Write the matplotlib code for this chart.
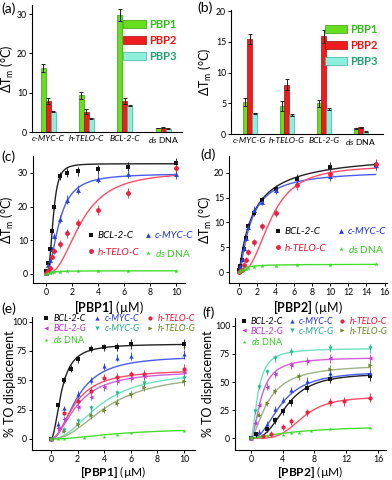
import numpy as np
import matplotlib
matplotlib.use('Agg')
import matplotlib.pyplot as plt
from matplotlib.patches import Patch
from matplotlib.lines import Line2D

plt.rcParams['font.family'] = ['Lato', 'DejaVu Sans']
plt.rcParams['mathtext.fontset'] = 'custom'
plt.rcParams['mathtext.rm'] = 'Lato'
plt.rcParams['mathtext.it'] = 'Lato:italic'
plt.rcParams['mathtext.bf'] = 'Lato:bold'
plt.rcParams['axes.linewidth'] = 0.8

# ---------------- data ----------------
# (a) Delta Tm, C-rich targets
cats_a = ['c-MYC-C', 'h-TELO-C', 'BCL-2-C', 'ds DNA']
a_pbp1 = [16.3, 9.3, 29.8, 1.0]
a_pbp2 = [7.8, 5.2, 7.8, 1.1]
a_pbp3 = [5.2, 3.5, 6.7, 0.8]
a_err1 = [1.0, 0.8, 1.5, 0.1]
a_err2 = [0.8, 0.6, 0.8, 0.1]
a_err3 = [0.2, 0.1, 0.2, 0.1]

# (b) Delta Tm, G-rich targets
cats_b = ['c-MYC-G', 'h-TELO-G', 'BCL-2-G', 'ds DNA']
b_pbp1 = [5.2, 4.6, 5.0, 0.9]
b_pbp2 = [15.5, 8.0, 15.9, 1.1]
b_pbp3 = [3.4, 3.1, 4.1, 0.4]
b_err1 = [0.6, 0.8, 0.6, 0.05]
b_err2 = [0.8, 0.9, 1.1, 0.05]
b_err3 = [0.1, 0.1, 0.2, 0.05]

# (c) titration with PBP1
c_x = [0, 0.15, 0.3, 0.45, 0.65, 1.1, 1.6, 2.5, 4.0, 6.3, 10]
c_bcl = [1.0, 3.3, 7.5, 12.7, 20.0, 29.0, 30.0, 30.5, 31.0, 31.8, 33.0]
c_myc = [0.3, 2.5, 4.2, 7.5, 11.2, 16.3, 22.0, 25.0, 28.3, 29.8, 29.8]
c_telo = [0.3, 1.0, 1.8, 5.0, 6.8, 9.0, 12.0, 15.0, 19.0, 24.0, 31.5]
c_ds = [0.0, 0.3, 0.4, 0.5, 0.6, 0.7, 0.8, 0.8, 0.8, 0.9, 1.0]
c_err = [0.3, 0.5, 0.5, 0.6, 0.8, 1.2, 1.3, 1.3, 1.4, 1.4, 1.5]
# Hill-fit parameters (Vmax, K, n)
c_fit_bcl = [32.7, 0.55, 3.0]
c_fit_myc = [29.8, 1.0, 2.0]
c_fit_telo = [30.5, 2.7, 2.4]
c_fit_ds = [0.95, 0.3, 1.0]

# (d) titration with PBP2
d_x = [0, 0.1, 0.25, 0.5, 0.7, 1.0, 1.6, 2.5, 4.0, 6.3, 10, 15]
d_bcl = [0.5, 1.2, 2.5, 4.7, 6.8, 9.2, 12.0, 14.5, 16.8, 18.8, 21.2, 21.6]
d_myc = [0.3, 1.3, 2.6, 4.8, 6.9, 9.0, 12.6, 14.2, 16.5, 18.0, 19.3, 21.5]
d_telo = [0.0, 0.3, 0.5, 1.5, 2.5, 4.0, 6.0, 9.2, 12.0, 17.5, 19.8, 21.8]
d_ds = [0.0, 0.2, 0.4, 0.6, 0.7, 0.8, 1.0, 1.2, 1.3, 1.4, 1.5, 1.6]
d_err = [0.3, 0.3, 0.4, 0.5, 0.5, 0.6, 0.7, 0.7, 0.8, 0.9, 1.0, 1.0]
d_fit_bcl = [24.0, 1.6, 1.0]
d_fit_myc = [20.5, 1.3, 1.3]
d_fit_telo = [21.5, 3.5, 2.5]
d_fit_ds = [1.6, 0.5, 1.0]

# (e) TO displacement, PBP1
e_x_bcl_c = [0, 0.5, 1, 1.5, 2, 3, 4, 5, 6, 10]
e_bcl_c = [0, 29, 50, 60, 68, 77, 78, 78.5, 81, 81]
e_x_myc_c = [0, 0.5, 1, 2, 3, 4, 5, 6, 10]
e_myc_c = [0, 13, 26, 38, 50, 62, 69, 71, 72]
e_x_telo_c = [0, 1, 2, 3, 4, 5, 6, 7, 10]
e_telo_c = [0, 22, 32, 41, 52, 53, 55, 55, 60]
e_x_bcl_g = [0, 0.5, 1, 2, 3, 4, 5, 6, 7, 10]
e_bcl_g = [0, 9, 17, 27, 36, 44, 49, 52, 54, 57]
e_x_myc_g = [0, 1, 2, 3, 5, 7, 10]
e_myc_g = [0, 8, 15, 26, 39, 48, 52]
e_x_telo_g = [0, 1, 2, 3, 4, 5, 6, 7, 10]
e_telo_g = [0, 7, 13, 20, 25, 31, 38, 44, 49]
e_x_ds = [0, 0.5, 1, 2.5, 4, 5, 6, 10]
e_ds = [0, 0, 0, 1, 2, 3, 5, 7]
e_fit_bcl_c = [81, 0.8, 2.0]
e_fit_myc_c = [71, 2.0, 2.1]
e_fit_telo_c = [59, 1.8, 2.0]
e_fit_bcl_g = [58, 2.0, 1.9]
e_fit_myc_g = [58, 3.7, 2.2]
e_fit_telo_g = [56, 4.3, 2.2]
e_fit_ds = [9, 5.0, 2.0]

# (f) TO displacement, PBP2
f_x_bcl_c = [0, 0.6, 2, 3, 4, 5, 7, 10, 15]
f_bcl_c = [0, 3.5, 8, 16, 24, 32, 45, 53, 55]
f_x_myc_c = [0, 1, 2, 3, 4, 5, 7, 10, 15]
f_myc_c = [0, 6, 13, 26, 34, 43, 51, 58, 58]
f_x_telo_c = [0, 1.5, 2.5, 4, 5, 7, 10, 11.7, 15]
f_telo_c = [0, 2, 4, 10, 15, 23, 32, 33, 36]
f_x_bcl_g = [0, 0.5, 1, 2, 3, 5, 7, 10, 15]
f_bcl_g = [0, 14, 30, 46, 57, 65, 69, 71, 71]
f_x_myc_g = [0, 0.5, 1, 2, 3, 5, 10, 15]
f_myc_g = [0, 24, 46, 59, 71, 77, 80, 80]
f_x_telo_g = [0, 1, 2, 3, 6, 10, 15]
f_telo_g = [0, 21, 31, 42, 55, 62, 65]
f_x_ds = [0, 1, 2, 4, 5, 6, 7.5, 10, 15]
f_ds = [0, 1, 2, 3, 4.5, 5, 6.5, 8, 9.5]
f_fit_bcl_c = [58, 4.5, 2.8]
f_fit_myc_c = [60, 3.8, 2.3]
f_fit_telo_c = [37, 6.5, 4.0]
f_fit_bcl_g = [72, 1.3, 1.8]
f_fit_myc_g = [80, 0.9, 1.8]
f_fit_telo_g = [66, 2.2, 1.6]
f_fit_ds = [12, 6.0, 1.3]

# ---------------- style ----------------
BAR_COLORS = ['#66e01e', '#ee1c1c', '#8cf0dc']
BAR_EDGES = ['#3a9a10', '#a01010', '#40b0a0']
LEG_TXT = ['#2fbf1a', '#ee1111', '#1fa070']

S = {
    'BCL-2-C': dict(c='#111111', lc='#222222', m='s', tc='#000000'),
    'c-MYC-C': dict(c='#2a3fe0', lc='#4a5cf0', m='^', tc='#2233cc'),
    'h-TELO-C': dict(c='#ee2040', lc='#ff4d6a', m='o', tc='#ee1133'),
    'ds DNA': dict(c='#3ad82a', lc='#48dc30', m='*', tc='#33cc22'),
    'BCL-2-G': dict(c='#c43cd0', lc='#d060d8', m='<', tc='#bb33cc'),
    'c-MYC-G': dict(c='#22b890', lc='#70e0c0', m='v', tc='#22aa88'),
    'h-TELO-G': dict(c='#6c8a2a', lc='#a0b088', m='>', tc='#668822'),
}

YL_TM = r'$\Delta$T$_\mathrm{m}$ (°C)'


def hill(x, p):
    vmax, k, n = p
    return vmax * x ** n / (k ** n + x ** n)


def label_text(name):
    if name == 'ds DNA':
        return r'$\mathit{ds}$ DNA'
    return name


W, H = 392, 480
fig = plt.figure(figsize=(W / 100, H / 100), dpi=100)


def rect(l, r, b, t):
    return [l / W, 1 - b / H, (r - l) / W, (b - t) / H]


def style_axes(ax):
    ax.spines['top'].set_visible(False)
    ax.spines['right'].set_visible(False)
    ax.tick_params(labelsize=6.3, length=2.5, width=0.7, pad=1.0)


def set_ylab(ax, text, xpix):
    # xpix: right edge (in figure pixels) of the rotated label
    ax.set_ylabel(text, fontsize=9)
    l = ax.get_position().x0 * W
    w = ax.get_position().width * W
    ax.yaxis.set_label_coords((xpix - l) / w, 0.5)


def bar_panel(ax, cats, s1, s2, s3, e1, e2, e3, ylim, yticks, xlim):
    style_axes(ax)
    x = np.arange(len(cats))
    w = 0.13
    for i, (s, e) in enumerate([(s1, e1), (s2, e2), (s3, e3)]):
        ax.bar(x + (i - 1) * w, s, w, yerr=e, color=BAR_COLORS[i],
               edgecolor=BAR_EDGES[i], linewidth=0.5,
               error_kw=dict(ecolor='#222222', elinewidth=0.7, capsize=1.5, capthick=0.7))
    ax.set_xlim(*xlim)
    ax.set_ylim(*ylim)
    ax.set_yticks(yticks)
    ax.set_xticks(x)
    ax.set_xticklabels([label_text(c) for c in cats], fontsize=6.1)
    for t, c in zip(ax.get_xticklabels(), cats):
        if c != 'ds DNA':
            t.set_fontstyle('italic')
    ax.tick_params(axis='x', length=0, pad=2)
    handles = [Patch(facecolor=BAR_COLORS[i], edgecolor=BAR_EDGES[i], linewidth=0.5)
               for i in range(3)]
    leg = ax.legend(handles, ['PBP1', 'PBP2', 'PBP3'], loc='upper right',
                    bbox_to_anchor=(1.03, 0.97), frameon=False,
                    prop=dict(size=8, weight='bold'), handlelength=2.0,
                    handleheight=0.8, labelspacing=0.45, handletextpad=0.3)
    for t, c in zip(leg.get_texts(), LEG_TXT):
        t.set_color(c)


def series(ax, xs, ys, name, fit, err, ms):
    st = S[name]
    xs = np.asarray(xs, float)
    xx = np.linspace(0, xs.max(), 300)
    ax.plot(xx, hill(xx, fit), color=st['lc'], lw=1.0, zorder=2)
    ax.errorbar(xs, ys, yerr=err[:len(xs)] if err is not None else None,
                fmt=st['m'], color=st['c'], ms=ms, mew=0, elinewidth=0.6,
                capsize=1.2, capthick=0.6, zorder=3)


def make_handles(names, ms):
    return [Line2D([], [], ls='none', marker=S[n]['m'], color=S[n]['c'], ms=ms, mew=0)
            for n in names]


def color_legend(leg, names):
    for t, n in zip(leg.get_texts(), names):
        t.set_color(S[n]['tc'])
        if n != 'ds DNA':
            t.set_fontstyle('italic')


XL1 = r'$\mathbf{[PBP1]}$ (µM)'
XL2 = r'$\mathbf{[PBP2]}$ (µM)'

# (a)
ax_a = fig.add_axes(rect(32, 182, 132, 5))
bar_panel(ax_a, cats_a, a_pbp1, a_pbp2, a_pbp3, a_err1, a_err2, a_err3,
          (0, 32.3), [0, 10, 20, 30], (-0.42, 3.49))
set_ylab(ax_a, YL_TM, 16)
# (b)
ax_b = fig.add_axes(rect(231, 383, 134, 10))
bar_panel(ax_b, cats_b, b_pbp1, b_pbp2, b_pbp3, b_err1, b_err2, b_err3,
          (0, 20.2), [0, 5, 10, 15, 20], (-0.51, 3.6))
set_ylab(ax_b, YL_TM, 214)

names_c = ['BCL-2-C', 'h-TELO-C', 'c-MYC-C', 'ds DNA']

# (c)
ax_c = fig.add_axes(rect(33, 185, 283, 156))
style_axes(ax_c)
for name, ys, fit in [('BCL-2-C', c_bcl, c_fit_bcl), ('c-MYC-C', c_myc, c_fit_myc),
                      ('h-TELO-C', c_telo, c_fit_telo), ('ds DNA', c_ds, c_fit_ds)]:
    series(ax_c, c_x, ys, name, fit, c_err if name != 'ds DNA' else None, 3.5)
ax_c.set_xlim(-1.0, 10.7)
ax_c.set_ylim(-2.7, 35)
ax_c.set_xticks([0, 2, 4, 6, 8, 10])
ax_c.set_yticks([0, 10, 20, 30])
set_ylab(ax_c, YL_TM, 16)
ax_c.set_xlabel(XL1, fontsize=9, labelpad=0.5)
leg = ax_c.legend(make_handles(names_c, 3.5), [label_text(n) for n in names_c], ncol=2,
                  loc='center left', bbox_to_anchor=(0.33, 0.30), frameon=False,
                  fontsize=7.2, handlelength=0.7, handletextpad=0.35, columnspacing=0.5,
                  labelspacing=0.75, borderaxespad=0.0)
color_legend(leg, names_c)

# (d)
ax_d = fig.add_axes(rect(229, 387, 283, 156))
style_axes(ax_d)
for name, ys, fit in [('BCL-2-C', d_bcl, d_fit_bcl), ('c-MYC-C', d_myc, d_fit_myc),
                      ('h-TELO-C', d_telo, d_fit_telo), ('ds DNA', d_ds, d_fit_ds)]:
    series(ax_d, d_x, ys, name, fit, d_err if name != 'ds DNA' else None, 3.5)
ax_d.set_xlim(-1.13, 16.26)
ax_d.set_ylim(-2.2, 23.4)
ax_d.set_xticks(range(0, 17, 2))
ax_d.set_yticks([0, 5, 10, 15, 20])
set_ylab(ax_d, YL_TM, 214)
ax_d.set_xlabel(XL2, fontsize=9, labelpad=0.5)
leg = ax_d.legend(make_handles(names_c, 3.5), [label_text(n) for n in names_c], ncol=2,
                  loc='center left', bbox_to_anchor=(0.26, 0.33), frameon=False,
                  fontsize=7.2, handlelength=0.7, handletextpad=0.35, columnspacing=1.1,
                  labelspacing=0.75, borderaxespad=0.0)
color_legend(leg, names_c)

# (e)
ax_e = fig.add_axes(rect(32, 195, 450, 317))
style_axes(ax_e)
err_e = [0, 2, 2.5, 3, 3, 3, 3, 3.5, 4, 4]
for name, xs, ys, fit in [('BCL-2-C', e_x_bcl_c, e_bcl_c, e_fit_bcl_c),
                          ('c-MYC-C', e_x_myc_c, e_myc_c, e_fit_myc_c),
                          ('h-TELO-C', e_x_telo_c, e_telo_c, e_fit_telo_c),
                          ('BCL-2-G', e_x_bcl_g, e_bcl_g, e_fit_bcl_g),
                          ('c-MYC-G', e_x_myc_g, e_myc_g, e_fit_myc_g),
                          ('h-TELO-G', e_x_telo_g, e_telo_g, e_fit_telo_g),
                          ('ds DNA', e_x_ds, e_ds, e_fit_ds)]:
    series(ax_e, xs, ys, name, fit, err_e if name != 'ds DNA' else None, 3.0)
ax_e.set_xlim(-1.42, 10.83)
ax_e.set_ylim(-9.4, 103.9)
ax_e.set_xticks([0, 2, 4, 6, 8, 10])
ax_e.set_yticks([0, 25, 50, 75, 100])
set_ylab(ax_e, '% TO displacement', 16)
ax_e.set_xlabel(XL1, fontsize=8.6, labelpad=0)
names_e = ['BCL-2-C', 'BCL-2-G', 'ds DNA', 'c-MYC-C', 'c-MYC-G', 'h-TELO-C', 'h-TELO-G']

# (f)
ax_f = fig.add_axes(rect(235, 386, 450, 318))
style_axes(ax_f)
err_f = [0, 2, 2.5, 3, 3, 3, 3.5, 4, 4]
for name, xs, ys, fit in [('BCL-2-C', f_x_bcl_c, f_bcl_c, f_fit_bcl_c),
                          ('c-MYC-C', f_x_myc_c, f_myc_c, f_fit_myc_c),
                          ('h-TELO-C', f_x_telo_c, f_telo_c, f_fit_telo_c),
                          ('BCL-2-G', f_x_bcl_g, f_bcl_g, f_fit_bcl_g),
                          ('c-MYC-G', f_x_myc_g, f_myc_g, f_fit_myc_g),
                          ('h-TELO-G', f_x_telo_g, f_telo_g, f_fit_telo_g),
                          ('ds DNA', f_x_ds, f_ds, f_fit_ds)]:
    series(ax_f, xs, ys, name, fit, err_f if name != 'ds DNA' else None, 3.0)
ax_f.set_xlim(-2.0, 17.0)
ax_f.set_ylim(-10.4, 107)
ax_f.set_xticks([0, 4, 8, 12, 16])
ax_f.set_yticks([0, 25, 50, 75, 100])
set_ylab(ax_f, '% TO displacement', 214)
ax_f.set_xlabel(XL2, fontsize=8.6, labelpad=0)

for ax, anchor, cs in [(ax_e, (0.07, 1.02), 0.9), (ax_f, (0.04, 1.01), 0.6)]:
    leg = ax.legend(make_handles(names_e, 3.0), [label_text(n) for n in names_e], ncol=3,
                    loc='upper left', bbox_to_anchor=anchor, frameon=False,
                    fontsize=6.5, handlelength=0.6, handletextpad=0.5, columnspacing=cs,
                    labelspacing=0.1, borderaxespad=0.0, borderpad=0.0)
    color_legend(leg, names_e)

# panel labels
for lab, x, y in [('(a)', 1, 9), ('(b)', 197, 8), ('(c)', 1, 157), ('(d)', 200, 155),
                  ('(e)', 1, 309), ('(f)', 202, 313)]:
    fig.text(x / W, 1 - y / H, lab, fontsize=10, va='center', ha='left')

fig.savefig('out.png', dpi=100)
